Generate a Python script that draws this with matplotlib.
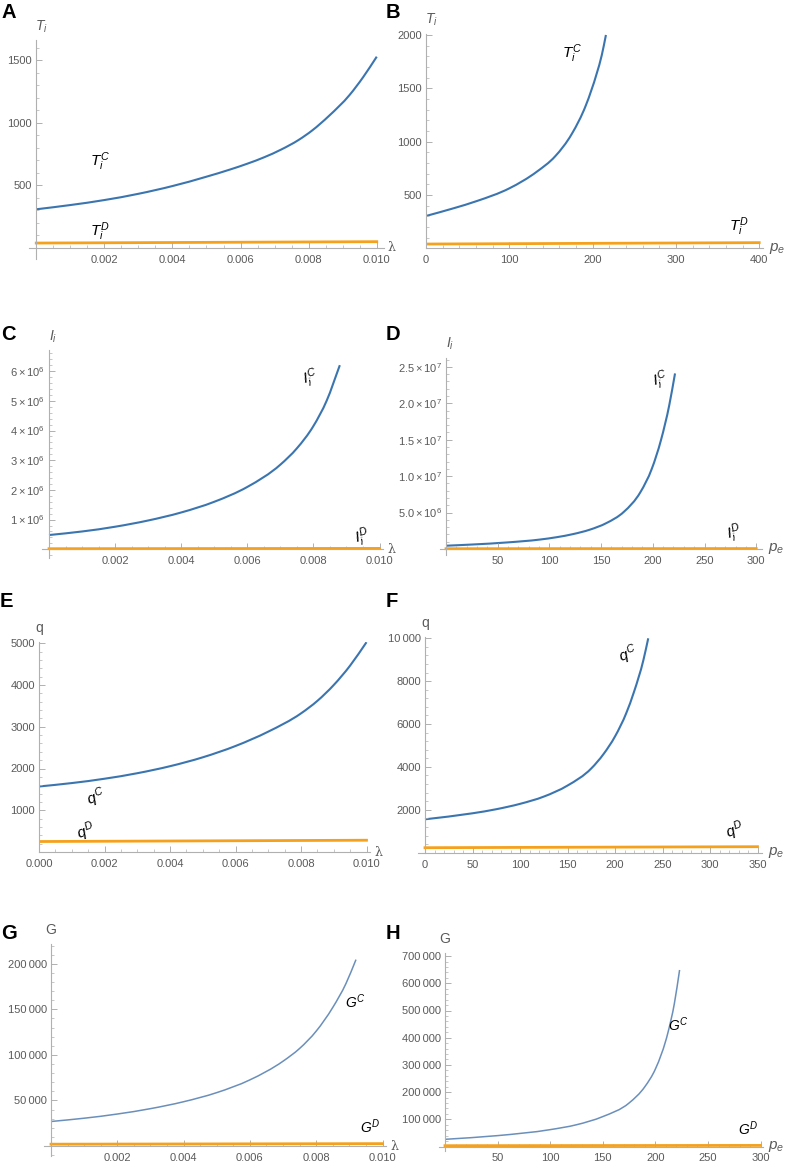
import numpy as np
import matplotlib
matplotlib.use('Agg')
import matplotlib.pyplot as plt
from matplotlib.path import Path
from matplotlib.patches import PathPatch
from matplotlib.ticker import FixedLocator, FixedFormatter, MultipleLocator

plt.rcParams['font.family'] = ['Liberation Sans', 'DejaVu Sans']
plt.rcParams['mathtext.fontset'] = 'custom'
plt.rcParams['mathtext.rm'] = 'Liberation Sans'
plt.rcParams['mathtext.it'] = 'Liberation Sans:italic'
plt.rcParams['mathtext.bf'] = 'Liberation Sans:bold'

W, H = 789, 1164
BLUE = '#3b75b0'
BLUE2 = '#6a8fbb'
ORANGE = '#f5a11c'
AXC = '#b0b0b0'
TXT = '#5a5a5a'

# ---- data ----
# A: T_i vs lambda
lam_A = [0, 0.001, 0.002, 0.003, 0.004, 0.005, 0.0057, 0.0062, 0.0067, 0.0072, 0.0077,
         0.0081, 0.0086, 0.0092, 0.0096, 0.0100]
TC_A = [308, 342, 382, 432, 494, 569, 627, 673, 725, 787, 862, 938, 1056, 1222, 1365, 1529]
lamD_A = [0, 0.010]
TD_A = [38, 49]

# B: T_i vs p_e
pe_B = [0, 33, 61, 100, 133, 155, 175, 192, 205, 211, 216]
TC_B = [303, 375, 443, 562, 718, 862, 1072, 1342, 1640, 1810, 2000]
peD_B = [0, 400]
TD_B = [40, 53]

# C: I_i vs lambda
lam_C = [0, 0.001, 0.002, 0.003, 0.004, 0.005, 0.006, 0.007, 0.0075, 0.008, 0.0084, 0.0088]
IC_C = [0.48e6, 0.60e6, 0.76e6, 0.97e6, 1.24e6, 1.60e6, 2.10e6, 2.85e6, 3.40e6, 4.15e6, 5.0e6, 6.2e6]
lamD_C = [0, 0.010]
ID_C = [0.02e6, 0.03e6]

# D: I_i vs p_e
pe_D = [0, 26, 59, 91, 107, 123, 139, 155, 172, 188, 199, 208, 216, 221.5]
IC_D = [0.45e6, 0.62e6, 0.90e6, 1.30e6, 1.62e6, 2.05e6, 2.65e6, 3.55e6, 5.1e6, 7.8e6,
        11.0e6, 15.0e6, 19.8e6, 24.1e6]
peD_D = [0, 300]
ID_D = [0.04e6, 0.06e6]

# E: q vs lambda
lam_E = [0, 0.001, 0.002, 0.003, 0.004, 0.005, 0.006, 0.007, 0.008, 0.0085, 0.009, 0.0095, 0.010]
QC_E = [1569, 1651, 1755, 1887, 2055, 2268, 2539, 2883, 3320, 3620, 4000, 4465, 5025]
lamD_E = [0, 0.010]
QD_E = [251, 282]

# F: q vs p_e
pe_F = [0, 50, 75, 100, 125, 150, 175, 188, 200, 212, 220, 230, 235]
QC_F = [1557, 1837, 2027, 2277, 2615, 3130, 3927, 4603, 5419, 6523, 7499, 8999, 9995]
peD_F = [0, 350]
QD_F = [233, 280]

# G: G vs lambda
lam_G = [0, 0.001, 0.002, 0.003, 0.004, 0.005, 0.006, 0.007, 0.0075, 0.008, 0.0085, 0.0089, 0.0092]
GC_G = [26900, 30500, 35100, 41000, 48600, 58600, 72600, 93100, 107100, 126100, 152100, 178500, 204600]
lamD_G = [0, 0.010]
GD_G = [2000, 2600]

# H: G vs p_e
pe_H = [0, 50, 100, 125, 150, 175, 190, 200, 212, 218, 223]
GC_H = [26400, 40000, 62000, 80000, 110000, 160000, 220000, 285000, 420000, 525000, 649000]
peD_H = [0, 300]
GD_H = [3000, 4000]

fig = plt.figure(figsize=(W / 100, H / 100), dpi=100)


def make_axes(px0, sx, py0, sy, xlim, ylim):
    left = px0 + xlim[0] * sx
    right = px0 + xlim[1] * sx
    bottom = py0 - ylim[0] * sy
    top = py0 - ylim[1] * sy
    ax = fig.add_axes([left / W, 1 - bottom / H, (right - left) / W, (bottom - top) / H])
    ax.set_xlim(xlim)
    ax.set_ylim(ylim)
    ax.patch.set_alpha(0)
    for s in ['top', 'right']:
        ax.spines[s].set_visible(False)
    for s in ['left', 'bottom']:
        ax.spines[s].set_color(AXC)
        ax.spines[s].set_linewidth(0.8)
        ax.spines[s].set_position(('data', 0))
    ax.tick_params(which='both', direction='in', colors=AXC, labelcolor=TXT, labelsize=8)
    ax.tick_params(which='major', length=4, width=0.7)
    ax.tick_params(which='minor', length=2, width=0.5)
    ax.tick_params(axis='x', pad=5)
    ax.tick_params(axis='y', pad=3)
    return ax


def smooth_line(ax, x, y, color, lw):
    # cubic bezier through the read points (drawn by matplotlib in data coords)
    x = np.asarray(x, float)
    y = np.asarray(y, float)
    h = np.diff(x)
    d = np.diff(y) / h
    m = np.empty_like(x)
    m[0] = d[0]
    m[-1] = d[-1]
    m[1:-1] = (d[:-1] * h[1:] + d[1:] * h[:-1]) / (h[1:] + h[:-1])
    verts = [(x[0], y[0])]
    codes = [Path.MOVETO]
    for i in range(len(x) - 1):
        verts += [(x[i] + h[i] / 3, y[i] + m[i] * h[i] / 3),
                  (x[i + 1] - h[i] / 3, y[i + 1] - m[i + 1] * h[i] / 3),
                  (x[i + 1], y[i + 1])]
        codes += [Path.CURVE4] * 3
    ax.add_patch(PathPatch(Path(verts, codes), fill=False, edgecolor=color, lw=lw,
                           capstyle='butt', joinstyle='round'))


def set_ticks(ax, xt, xl, xminor, yt, yl, yminor):
    ax.xaxis.set_major_locator(FixedLocator(xt))
    ax.xaxis.set_major_formatter(FixedFormatter(xl))
    ax.xaxis.set_minor_locator(MultipleLocator(xminor))
    ax.yaxis.set_major_locator(FixedLocator(yt))
    ax.yaxis.set_major_formatter(FixedFormatter(yl))
    ax.yaxis.set_minor_locator(MultipleLocator(yminor))


def axis_labels(ax, xlab, ylab, xlab_serif, ydx):
    if xlab_serif:
        ax.annotate(xlab, xy=(1, 0), xycoords=('axes fraction', 'data'), xytext=(3, 0),
                    textcoords='offset points', ha='left', va='center', color=TXT,
                    fontsize=9, family='DejaVu Serif')
    else:
        ax.annotate(xlab, xy=(1, 0), xycoords=('axes fraction', 'data'), xytext=(4, 0),
                    textcoords='offset points', ha='left', va='center', color=TXT, fontsize=11)
    ax.annotate(ylab, xy=(0, 1), xycoords=('data', 'axes fraction'), xytext=(ydx, 10),
                textcoords='offset points', ha='center', va='center', color=TXT, fontsize=10)


lam_ticks = [0.002, 0.004, 0.006, 0.008, 0.010]
lam_labels = ['0.002', '0.004', '0.006', '0.008', '0.010']

# A
ax = make_axes(36.25, 34050, 247.8, 0.125, (-0.0002, 0.0102), (-90, 1660))
smooth_line(ax, lam_A, TC_A, BLUE, 1.5)
ax.plot(lamD_A, TD_A, color=ORANGE, lw=2)
set_ticks(ax, lam_ticks, lam_labels, 0.0005, [500, 1000, 1500], ['500', '1000', '1500'], 100)
axis_labels(ax, 'λ', '$T_i$', True, 4)
ax.text(0.00187, 689, '$T_i^C$', fontsize=11, ha='center', va='center')
ax.text(0.00187, 129, '$T_i^D$', fontsize=11, ha='center', va='center')

# B
ax = make_axes(426, 0.833, 248.3, 0.10667, (0, 405), (0, 2010))
smooth_line(ax, pe_B, TC_B, BLUE, 1.5)
ax.plot(peD_B, TD_B, color=ORANGE, lw=2)
set_ticks(ax, [0, 100, 200, 300, 400], ['0', '100', '200', '300', '400'], 20,
          [500, 1000, 1500, 2000], ['500', '1000', '1500', '2000'], 100)
axis_labels(ax, '$p_e$', '$T_i$', False, 4)
ax.text(175, 1828, '$T_i^C$', fontsize=11, ha='center', va='center')
ax.text(375, 203, '$T_i^D$', fontsize=11, ha='center', va='center')

# C
ax = make_axes(49, 33050, 549.3, 29.7e-6, (-0.0002, 0.0101), (-0.3e6, 6.7e6))
smooth_line(ax, lam_C, IC_C, BLUE, 1.5)
ax.plot(lamD_C, ID_C, color=ORANGE, lw=2)
set_ticks(ax, lam_ticks, lam_labels, 0.0005,
          [1e6, 2e6, 3e6, 4e6, 5e6, 6e6],
          [r'$%d\times10^{6}$' % k for k in range(1, 7)], 2e5)
axis_labels(ax, 'λ', '$I_i$', True, 3)
ax.text(0.0079, 5.76e6, '$I_i^C$', fontsize=11, ha='center', va='center', rotation=15)
ax.text(0.00946, 0.42e6, '$I_i^D$', fontsize=11, ha='center', va='center', rotation=15)

# D
ax = make_axes(446, 1.034, 549, 7.285e-6, (-6, 306), (-0.8e6, 26.2e6))
smooth_line(ax, pe_D, IC_D, BLUE, 1.5)
ax.plot(peD_D, ID_D, color=ORANGE, lw=2)
set_ticks(ax, [50, 100, 150, 200, 250, 300], ['50', '100', '150', '200', '250', '300'], 10,
          [5e6, 1e7, 1.5e7, 2e7, 2.5e7],
          [r'$5.0\times10^{6}$', r'$1.0\times10^{7}$', r'$1.5\times10^{7}$',
           r'$2.0\times10^{7}$', r'$2.5\times10^{7}$'], 1e6)
axis_labels(ax, '$p_e$', '$I_i$', False, 3)
ax.text(207, 23.2e6, '$I_i^C$', fontsize=11, ha='center', va='center', rotation=15)
ax.text(279, 2.15e6, '$I_i^D$', fontsize=11, ha='center', va='center', rotation=15)

# E
ax = make_axes(39, 32750, 852, 0.04175, (0, 0.0101), (0, 5030))
smooth_line(ax, lam_E, QC_E, BLUE, 1.5)
ax.plot(lamD_E, QD_E, color=ORANGE, lw=2)
set_ticks(ax, [0] + lam_ticks, ['0.000'] + lam_labels, 0.0005,
          [1000, 2000, 3000, 4000, 5000], ['1000', '2000', '3000', '4000', '5000'], 200)
axis_labels(ax, 'λ', 'q', True, 0)
ax.text(0.00176, 1292, '$q^C$', fontsize=11, ha='center', va='center', rotation=20)
ax.text(0.00143, 488, '$q^D$', fontsize=11, ha='center', va='center', rotation=20)

# F
ax = make_axes(425, 0.95, 852.7, 0.02145, (-7, 355), (0, 10050))
smooth_line(ax, pe_F, QC_F, BLUE, 1.5)
ax.plot(peD_F, QD_F, color=ORANGE, lw=2)
set_ticks(ax, [0, 50, 100, 150, 200, 250, 300, 350],
          ['0', '50', '100', '150', '200', '250', '300', '350'], 10,
          [2000, 4000, 6000, 8000, 10000], ['2000', '4000', '6000', '8000', '10\u2009000'], 400)
axis_labels(ax, '$p_e$', 'q', False, 0)
ax.text(214, 9217, '$q^C$', fontsize=11, ha='center', va='center', rotation=20)
ax.text(326, 1026, '$q^D$', fontsize=11, ha='center', va='center', rotation=20)

# G
ax = make_axes(51, 33150, 1146, 0.000911, (-0.0002, 0.0101), (-11000, 222000))
smooth_line(ax, lam_G, GC_G, BLUE2, 1.1)
ax.plot(lamD_G, GD_G, color=ORANGE, lw=2)
set_ticks(ax, lam_ticks, lam_labels, 0.0005,
          [50000, 100000, 150000, 200000],
          ['50\u2009000', '100\u2009000', '150\u2009000', '200\u2009000'], 10000)
axis_labels(ax, 'λ', 'G', True, 0)
ax.text(0.00917, 158800, '$G^C$', fontsize=10, ha='center', va='center')
ax.text(0.00962, 21400, '$G^D$', fontsize=10, ha='center', va='center')

# H
ax = make_axes(445, 1.052, 1146.5, 0.000272, (-5.5, 302), (-18000, 712000))
smooth_line(ax, pe_H, GC_H, BLUE2, 1.1)
ax.plot(peD_H, GD_H, color=ORANGE, lw=2)
set_ticks(ax, [50, 100, 150, 200, 250, 300], ['50', '100', '150', '200', '250', '300'], 10,
          [100000 * k for k in range(1, 8)],
          ['%d\u2009000' % (100 * k) for k in range(1, 8)], 20000)
axis_labels(ax, '$p_e$', 'G', False, 0)
ax.text(221.7, 446700, '$G^C$', fontsize=10, ha='center', va='center')
ax.text(288, 67000, '$G^D$', fontsize=10, ha='center', va='center')

# panel letters
for letter, x, y in [('A', 1, 3), ('B', 386, 3), ('C', 1, 325), ('D', 386, 325),
                     ('E', 0, 592), ('F', 386, 592), ('G', 1, 924), ('H', 386, 924)]:
    fig.text(x / W, 1 - y / H, letter, fontsize=14.5, fontweight='bold', ha='left', va='top')

fig.savefig('out.png', dpi=100)
